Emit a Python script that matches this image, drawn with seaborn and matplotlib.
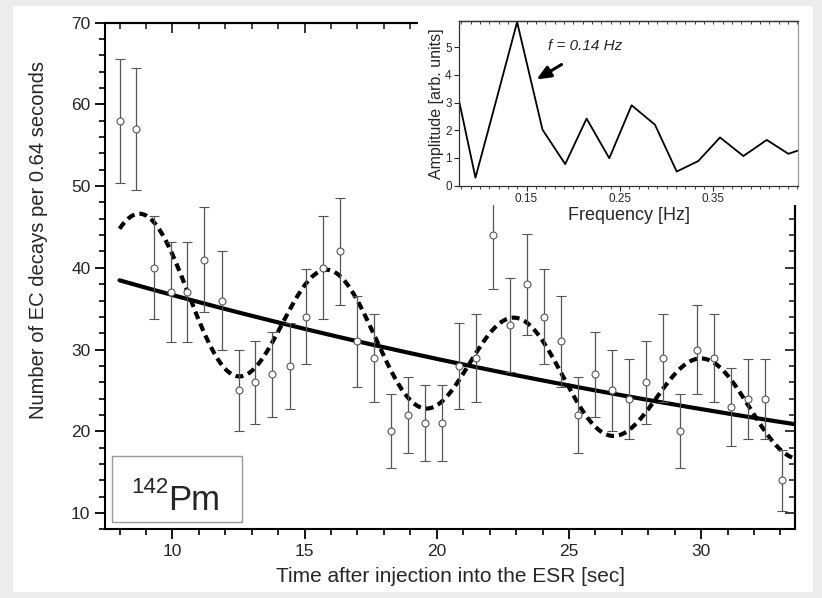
import matplotlib
matplotlib.use("Agg")
import matplotlib.pyplot as plt
import numpy as np
import seaborn as sns
from matplotlib.patches import Rectangle
from matplotlib.ticker import MultipleLocator, FixedLocator

# measured decay counts (0.64 s bins) with Poisson errors
time_s = [8.00, 8.64, 9.29, 9.93, 10.57, 11.21, 11.86, 12.50, 13.14, 13.78,
          14.43, 15.07, 15.71, 16.35, 17.00, 17.64, 18.28, 18.92, 19.57, 20.21,
          20.85, 21.49, 22.14, 22.78, 23.42, 24.06, 24.71, 25.35, 25.99, 26.63,
          27.28, 27.92, 28.56, 29.20, 29.85, 30.49, 31.13, 31.77, 32.42, 33.06]
decays = [58, 57, 40, 37, 37, 41, 36, 25, 26, 27,
          28, 34, 40, 42, 31, 29, 20, 22, 21, 21,
          28, 29, 44, 33, 38, 34, 31, 22, 27, 25,
          24, 26, 29, 20, 30, 29, 23, 24, 24, 14]
decay_err = [7.6, 7.5, 6.3, 6.1, 6.1, 6.4, 6.0, 5.0, 5.1, 5.2,
             5.3, 5.8, 6.3, 6.5, 5.6, 5.4, 4.5, 4.7, 4.6, 4.6,
             5.3, 5.4, 6.6, 5.7, 6.2, 5.8, 5.6, 4.7, 5.2, 5.0,
             4.9, 5.1, 5.4, 4.5, 5.5, 5.4, 4.8, 4.9, 4.9, 3.7]

# fit parameters
exp_amp, exp_lambda = 46.6, 0.02396          # solid: pure exponential
osc_amp, osc_lambda = 46.12, 0.0225          # dashed: modulated exponential
mod_amp = 0.233
mod_period = 7.08
mod_peak_t = 8.9
fit_range = (8.0, 33.6)

# inset: fourier amplitude spectrum
freq_hz = [0.078, 0.0953, 0.1128, 0.1399, 0.1671, 0.1914, 0.2143, 0.2386, 0.2625,
           0.2875, 0.3108, 0.3339, 0.3572, 0.3822, 0.4072, 0.4304, 0.441]
amplitude = [3.02, 0.29, 2.48, 5.9, 2.02, 0.78, 2.42, 0.99, 2.90,
             2.2, 0.51, 0.89, 1.74, 1.07, 1.65, 1.15, 1.27]

W, H = 822, 598
FONT = ["Liberation Sans", "DejaVu Sans"]

sns.set_theme(style="ticks")
plt.rcParams["font.family"] = FONT
plt.rcParams["axes.linewidth"] = 1.5


def px_rect(x0, y0, x1, y1):
    return [x0 / W, 1 - y1 / H, (x1 - x0) / W, (y1 - y0) / H]


fig = plt.figure(figsize=(W / 100, H / 100), dpi=100)
fig.patch.set_facecolor("#ececec")
fig.add_artist(Rectangle((13 / W, 1 - 592 / H), 800 / W, 586 / H,
                         transform=fig.transFigure, facecolor="white",
                         edgecolor="none", zorder=-1))

ax = fig.add_axes(px_rect(105, 22.7, 795, 529.3))
ax.set_facecolor("white")

t = np.linspace(*fit_range, 600)
base = exp_amp * np.exp(-exp_lambda * t)
modulated = osc_amp * np.exp(-osc_lambda * t) * (
    1 + mod_amp * np.cos(2 * np.pi / mod_period * (t - mod_peak_t)))
sns.lineplot(x=t, y=base, ax=ax, color="black", lw=3.0, zorder=3)
sns.lineplot(x=t, y=modulated, ax=ax, color="black", lw=3.0, zorder=3,
             dashes=False).lines[-1].set_dashes((1.9, 1.2))

ax.errorbar(time_s, decays, yerr=decay_err, fmt="o", ms=5, mfc="white",
            mec="#555555", mew=0.8, ecolor="#555555", elinewidth=0.9,
            capsize=3.6, capthick=0.9, zorder=4)

ax.set_xlim(7.45, 33.55)
ax.set_ylim(8, 70)
ax.xaxis.set_major_locator(FixedLocator([10, 15, 20, 25, 30]))
ax.xaxis.set_minor_locator(MultipleLocator(1))
ax.yaxis.set_major_locator(FixedLocator([10, 20, 30, 40, 50, 60, 70]))
ax.yaxis.set_minor_locator(MultipleLocator(2))
ax.tick_params(which="major", direction="out", length=7, width=1.3, labelsize=12.5, color="black")
ax.tick_params(which="minor", direction="out", length=4, width=1.2, color="black")
for s in ax.spines.values():
    s.set_color("black")

top = ax.secondary_xaxis("top")
top.xaxis.set_major_locator(FixedLocator([10, 15, 20, 25, 30]))
top.xaxis.set_minor_locator(MultipleLocator(1))
top.tick_params(which="major", direction="in", length=7, width=1.3, labeltop=False)
top.tick_params(which="minor", direction="in", length=4, width=1.2)
right = ax.secondary_yaxis("right")
right.yaxis.set_major_locator(MultipleLocator(10))
right.yaxis.set_minor_locator(MultipleLocator(2))
right.tick_params(which="major", direction="in", length=7, width=1.3, labelright=False)
right.tick_params(which="minor", direction="in", length=4, width=1.2)

ax.set_xlabel("Time after injection into the ESR [sec]", fontsize=15, labelpad=6)
ax.set_ylabel("Number of EC decays per 0.64 seconds", fontsize=14.5)
ax.yaxis.set_label_coords(-0.083, 0.571)

# isotope label box
fig.add_artist(Rectangle((111.7 / W, 1 - 521.7 / H), 130 / W, 65.7 / H,
                         transform=fig.transFigure, facecolor="white",
                         edgecolor="#999999", lw=1.0, zorder=1))
fig.text(168.3 / W, 1 - 510 / H, "Pm", fontsize=25, ha="left", va="baseline", zorder=2)
fig.text(131.7 / W, 1 - 493.3 / H, "142", fontsize=16, ha="left", va="baseline", zorder=2)

# inset panel
fig.add_artist(Rectangle((418 / W, 1 - 205 / H), 387 / W, 193 / H,
                         transform=fig.transFigure, facecolor="white",
                         edgecolor="none", zorder=1))
ins = fig.add_axes(px_rect(459.3, 20.7, 798.3, 185.7))
ins.set_zorder(2)
sns.lineplot(x=freq_hz, y=amplitude, ax=ins, color="black", lw=1.3)
ins.set_xlim(0.078, 0.441)
ins.set_ylim(0, 5.95)
ins.xaxis.set_major_locator(FixedLocator([0.15, 0.25, 0.35]))
ins.xaxis.set_minor_locator(MultipleLocator(0.01))
ins.yaxis.set_major_locator(MultipleLocator(1))
ins.tick_params(which="major", direction="out", length=3.5, width=0.8, labelsize=8.5, pad=2)
ins.tick_params(which="minor", direction="out", length=2, width=0.6)
ins.set_xticklabels(["0.15", "0.25", "0.35"])
ins_top = ins.secondary_xaxis("top")
ins_top.xaxis.set_major_locator(FixedLocator([0.15, 0.25, 0.35]))
ins_top.xaxis.set_minor_locator(MultipleLocator(0.01))
ins_top.tick_params(which="both", direction="in", length=2.5, width=0.6, labeltop=False)
ins_top.spines["top"].set_linewidth(0.9)
for s in ins.spines.values():
    s.set_linewidth(0.9)
    s.set_color("#333333")
ins.spines["right"].set_color("#999999")
ins.set_xlabel("Frequency [Hz]", fontsize=13, labelpad=1)
ins.set_ylabel("Amplitude [arb. units]", fontsize=11.5, labelpad=1)
ins.text(0.173, 5.04, "f = 0.14 Hz", fontsize=11, style="italic", ha="left", va="center")
ins.annotate("", xy=(0.1607, 3.83), xytext=(0.1875, 4.37),
             arrowprops=dict(arrowstyle="-|>,head_length=0.7,head_width=0.3",
                             color="black", lw=2.2, shrinkA=0, shrinkB=0))

fig.savefig("out.png", dpi=100, facecolor=fig.get_facecolor())
